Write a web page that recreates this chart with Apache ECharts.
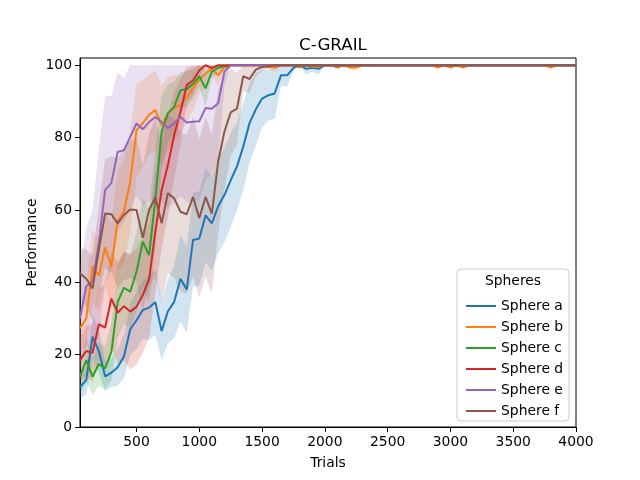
<!DOCTYPE html>
<html style='height: 100%'>
<head>
    <meta charset='utf-8'>
</head>
<body style='height: 100%; margin: 0'>
    <div id='container' style='width: 640px; height: 480px'></div>
    <script type='text/javascript' src='https://cdn.jsdelivr.net/npm/echarts@6/dist/echarts.min.js'></script>
    <script type="text/javascript">

// trials (x) and mean performance per sphere
var trials = [50, 100, 150, 200, 250, 300, 350, 400, 450, 500,
    550, 600, 650, 700, 750, 800, 850, 900, 950, 1000,
    1050, 1100, 1150, 1200, 1250, 1300, 1350, 1400, 1450, 1500,
    1550, 1600, 1650, 1700, 1750, 1800, 1850, 1900, 1950, 2000,
    2050, 2100, 2150, 2200, 2250, 2300, 2350, 2400, 2450, 2500,
    2550, 2600, 2650, 2700, 2750, 2800, 2850, 2900, 2950, 3000,
    3050, 3100, 3150, 3200, 3250, 3300, 3350, 3400, 3450, 3500,
    3550, 3600, 3650, 3700, 3750, 3800, 3850, 3900, 3950, 4000];

var sphereA = [11, 13, 25, 21, 14, 15, 16.5, 19.5, 27, 29.5,
    32.3, 33, 34.5, 26.5, 32, 34.6, 41, 38, 51.7, 52.1,
    58.5, 56.3, 61, 64.1, 68.2, 72, 77.5, 84, 87.8, 90.8,
    91.7, 92.2, 97.2, 97.2, 99.3, 100, 99, 99.3, 99, 100,
    100, 99.6, 100, 99.8, 100, 100, 100, 100, 100, 100,
    100, 100, 100, 100, 100, 100, 100, 100, 100, 100,
    100, 100, 100, 100, 100, 100, 100, 100, 100, 100,
    100, 100, 100, 100, 100, 100, 100, 100, 100, 100];
var sphereB = [27.3, 30, 44.5, 41.8, 49.6, 44.3, 57, 59.5, 67.8, 82,
    84, 86.3, 87.6, 83.4, 86.7, 88.2, 89, 91.2, 93.6, 96,
    97.7, 99, 97.2, 99.4, 100, 100, 100, 100, 100, 100,
    99.5, 99.3, 100, 100, 100, 99.5, 100, 99.6, 99.6, 100,
    100, 99.5, 100, 99.4, 99.4, 100, 100, 100, 100, 100,
    100, 100, 100, 100, 100, 100, 100, 99.4, 100, 99.4,
    100, 99.4, 100, 100, 100, 100, 100, 100, 100, 100,
    100, 100, 100, 100, 100, 99.4, 100, 100, 100, 100];
var sphereC = [13.9, 18.5, 13.9, 17.4, 16.2, 20.8, 34.6, 38.5, 37.4, 42.9,
    51.2, 47.5, 63, 81.6, 86.7, 88.5, 93.1, 93.4, 94.8, 97,
    93.6, 98.2, 99.3, 99.7, 100, 100, 100, 100, 100, 100,
    100, 100, 100, 100, 100, 99.7, 100, 100, 100, 100,
    100, 100, 100, 100, 100, 100, 100, 100, 100, 100,
    100, 100, 100, 100, 100, 100, 100, 100, 100, 100,
    100, 100, 100, 100, 100, 100, 100, 100, 100, 100,
    100, 100, 100, 100, 100, 100, 100, 100, 100, 100];
var sphereD = [18.5, 21, 20.5, 28.4, 27.5, 35.5, 31.6, 33.4, 31.9, 33.2,
    36.5, 40.8, 54, 65.5, 72.4, 80.7, 87.1, 94.5, 95.8, 98.6,
    100, 99.2, 100, 100, 100, 100, 100, 100, 100, 100,
    100, 100, 100, 100, 100, 100, 100, 100, 100, 100,
    100, 100, 100, 100, 100, 100, 100, 100, 100, 100,
    100, 100, 100, 100, 100, 100, 100, 100, 100, 100,
    100, 100, 100, 100, 100, 100, 100, 100, 100, 100,
    100, 100, 100, 100, 100, 100, 100, 100, 100, 100];
var sphereE = [30, 39, 40, 51, 65.5, 67.5, 76, 76.5, 80.2, 83.9,
    82.3, 84.3, 85.7, 84.3, 82.6, 84, 85.7, 84.2, 84.4, 84.5,
    88.2, 88, 89.5, 98.2, 100, 100, 100, 100, 100, 100,
    100, 100, 100, 100, 100, 100, 100, 100, 100, 100,
    100, 100, 100, 100, 100, 100, 100, 100, 100, 100,
    100, 100, 100, 100, 100, 100, 100, 100, 100, 100,
    100, 100, 100, 100, 100, 100, 100, 100, 100, 100,
    100, 100, 100, 100, 100, 100, 100, 100, 100, 100];
var sphereF = [42.5, 41, 38.3, 49, 59, 58.8, 56.3, 58.6, 60.1, 60,
    52.3, 60, 63.5, 56.3, 64.6, 63.2, 59.5, 58.8, 63.6, 57.7,
    63.6, 59, 73.3, 81.6, 87, 88, 97, 96.2, 98.8, 99.5,
    99.7, 100, 100, 100, 100, 100, 100, 100, 100, 100,
    100, 100, 100, 100, 100, 100, 100, 100, 100, 100,
    100, 100, 100, 100, 100, 100, 100, 100, 100, 100,
    100, 100, 100, 100, 100, 100, 100, 100, 100, 100,
    100, 100, 100, 100, 100, 100, 100, 100, 100, 100];

// half-width of the shaded band around each mean
var spreadA = [3, 4, 6, 6, 4, 4, 5, 6, 7, 8,
    8, 9, 9, 8, 9, 10, 12, 12, 13, 13,
    13, 13, 13, 13, 13, 12, 12, 11, 10, 8,
    7, 7, 3, 3, 1, 0, 1.5, 1, 1.5, 0,
    0, 0.8, 0, 0.5, 0, 0, 0, 0, 0, 0,
    0, 0, 0, 0, 0, 0, 0, 0, 0, 0,
    0, 0, 0, 0, 0, 0, 0, 0, 0, 0,
    0, 0, 0, 0, 0, 0, 0, 0, 0, 0];
var spreadB = [6, 8, 10, 10, 10, 12, 14, 14, 14, 13,
    12, 11, 11, 11, 10, 9, 8, 7, 6, 4,
    3, 1.5, 3, 1, 0, 0, 0, 0, 0, 0,
    0.8, 1, 0, 0, 0, 0.8, 0, 0.6, 0.6, 0,
    0, 0.8, 0, 0.8, 0.8, 0, 0, 0, 0, 0,
    0, 0, 0, 0, 0, 0, 0, 0.8, 0, 0.8,
    0, 0.8, 0, 0, 0, 0, 0, 0, 0, 0,
    0, 0, 0, 0, 0, 0.8, 0, 0, 0, 0];
var spreadC = [5, 6, 5, 6, 6, 8, 10, 10, 10, 11,
    12, 13, 14, 10, 8, 7, 5, 5, 4, 3,
    5, 2, 1, 0.5, 0, 0, 0, 0, 0, 0,
    0, 0, 0, 0, 0, 0.5, 0, 0, 0, 0,
    0, 0, 0, 0, 0, 0, 0, 0, 0, 0,
    0, 0, 0, 0, 0, 0, 0, 0, 0, 0,
    0, 0, 0, 0, 0, 0, 0, 0, 0, 0,
    0, 0, 0, 0, 0, 0, 0, 0, 0, 0];
var spreadD = [6, 7, 8, 10, 12, 13, 14, 15, 16, 16,
    16, 16, 17, 16, 14, 12, 9, 5, 4, 2,
    0, 1, 0, 0, 0, 0, 0, 0, 0, 0,
    0, 0, 0, 0, 0, 0, 0, 0, 0, 0,
    0, 0, 0, 0, 0, 0, 0, 0, 0, 0,
    0, 0, 0, 0, 0, 0, 0, 0, 0, 0,
    0, 0, 0, 0, 0, 0, 0, 0, 0, 0,
    0, 0, 0, 0, 0, 0, 0, 0, 0, 0];
var spreadE = [14, 16, 20, 26, 26, 24, 22, 20, 20, 20,
    21, 22, 22, 22, 22, 22, 22, 22, 22, 22,
    20, 18, 16, 4, 0, 0, 0, 0, 0, 0,
    0, 0, 0, 0, 0, 0, 0, 0, 0, 0,
    0, 0, 0, 0, 0, 0, 0, 0, 0, 0,
    0, 0, 0, 0, 0, 0, 0, 0, 0, 0,
    0, 0, 0, 0, 0, 0, 0, 0, 0, 0,
    0, 0, 0, 0, 0, 0, 0, 0, 0, 0];
var spreadF = [7, 8, 9, 12, 15, 16, 18, 18, 19, 20,
    20, 21, 22, 22, 22, 22, 22, 22, 22, 22,
    22, 22, 20, 16, 12, 10, 4, 4, 2, 1,
    0.5, 0, 0, 0, 0, 0, 0, 0, 0, 0,
    0, 0, 0, 0, 0, 0, 0, 0, 0, 0,
    0, 0, 0, 0, 0, 0, 0, 0, 0, 0,
    0, 0, 0, 0, 0, 0, 0, 0, 0, 0,
    0, 0, 0, 0, 0, 0, 0, 0, 0, 0];

var names = ['Sphere a', 'Sphere b', 'Sphere c', 'Sphere d', 'Sphere e', 'Sphere f'];
var colors = ['#1f77b4', '#ff7f0e', '#2ca02c', '#d62728', '#9467bd', '#8c564b'];
var xTicks = [500, 1000, 1500, 2000, 2500, 3000, 3500, 4000];
var yTicks = [0, 20, 40, 60, 80, 100];

var means = [sphereA, sphereB, sphereC, sphereD, sphereE, sphereF];
var spreads = [spreadA, spreadB, spreadC, spreadD, spreadE, spreadF];

var dom = document.getElementById("container");
var myChart = echarts.init(dom);
var font = 'DejaVu Sans';

function bandSeries(k) {
    var lo = [], hi = [];
    for (var i = 0; i < trials.length; i++) {
        lo.push(Math.max(0, means[k][i] - spreads[k][i]));
        hi.push(Math.min(100, means[k][i] + spreads[k][i]));
    }
    return {
        type: 'custom',
        silent: true,
        z: 1,
        data: trials.map(function (t, i) { return [t, lo[i], hi[i]]; }),
        renderItem: function (params, api) {
            if (params.dataIndex !== 0) return;
            var pts = [];
            for (var i = 0; i < trials.length; i++) pts.push(api.coord([trials[i], hi[i]]));
            for (var j = trials.length - 1; j >= 0; j--) pts.push(api.coord([trials[j], lo[j]]));
            return {
                type: 'polygon',
                shape: { points: pts },
                style: { fill: colors[k], opacity: 0.2 }
            };
        }
    };
}

var series = [];
for (var k = 0; k < 6; k++) series.push(bandSeries(k));
for (var k = 0; k < 6; k++) {
    series.push({
        name: names[k],
        type: 'line',
        z: 3,
        showSymbol: false,
        symbol: 'none',
        color: colors[k],
        lineStyle: { width: 2, color: colors[k] },
        data: trials.map(function (t, i) { return [t, means[k][i]]; })
    });
}

function plain(v) { return String(v); }

option = {
    animation: false,
    textStyle: { fontFamily: font },
    title: {
        text: 'C-GRAIL',
        left: 328, top: 32, textAlign: 'center',
        textStyle: { fontFamily: font, fontSize: 16.7, fontWeight: 'normal', color: '#000' }
    },
    grid: {
        left: 80, right: 64, top: 58, bottom: 53,
        show: true, borderColor: '#000', borderWidth: 1
    },
    xAxis: {
        type: 'value', min: 50, max: 4000,
        name: 'Trials', nameLocation: 'middle', nameGap: 29, nameMoveOverlap: false,
        nameTextStyle: { fontFamily: font, fontSize: 13.9, color: '#000' },
        axisLine: { lineStyle: { color: '#000', width: 1 } },
        axisTick: { show: true, length: 5, lineStyle: { color: '#000' }, customValues: xTicks },
        axisLabel: { fontFamily: font, fontSize: 13.9, color: '#000', margin: 8, customValues: xTicks, formatter: plain },
        splitLine: { show: false }
    },
    yAxis: {
        type: 'value', min: 0, max: 102,
        name: 'Performance', nameLocation: 'middle', nameGap: 41, nameMoveOverlap: false,
        nameTextStyle: { fontFamily: font, fontSize: 13.9, color: '#000' },
        axisLine: { show: true, lineStyle: { color: '#000', width: 1 } },
        axisTick: { show: true, length: 5, lineStyle: { color: '#000' }, customValues: yTicks },
        axisLabel: { fontFamily: font, fontSize: 13.9, color: '#000', margin: 8, customValues: yTicks, formatter: plain },
        splitLine: { show: false }
    },
    legend: {
        data: names,
        orient: 'vertical',
        left: 461, top: 293,
        icon: 'rect', itemWidth: 30, itemHeight: 2,
        itemGap: 5, itemTextGap: 10,
        textStyle: { fontFamily: font, fontSize: 13.9, color: '#000', lineHeight: 16 },
        z: 10
    },
    graphic: [
        {
            type: 'rect', z: 5,
            shape: { x: 457, y: 269, width: 112, height: 152, r: 4 },
            style: { fill: 'rgba(255,255,255,0.8)', stroke: '#cccccc', lineWidth: 1 }
        },
        {
            type: 'text', z: 6,
            x: 513, y: 281,
            style: { text: 'Spheres', fontFamily: font, fontSize: 13.9, fill: '#000', align: 'center', verticalAlign: 'middle' }
        }
    ],
    series: series
};

if (option && typeof option === "object") {
    myChart.setOption(option, true);
}
       </script>
   </body>
</html>
